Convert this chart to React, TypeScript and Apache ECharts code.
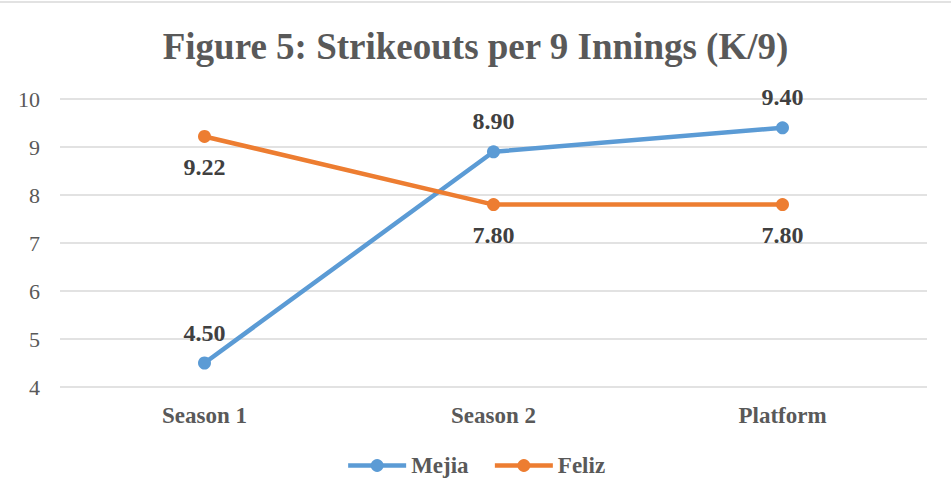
import React, { useEffect, useRef } from "react";
import * as echarts from "echarts";

const categories = ["Season 1", "Season 2", "Platform"];
const mejia = [4.5, 8.9, 9.4];
const feliz = [9.22, 7.8, 7.8];
const yTicks = { min: 4, max: 10, interval: 1 };

const FONT = '"Liberation Serif", "Times New Roman", serif';

export default function App() {
  const ref = useRef<HTMLDivElement>(null);
  useEffect(() => {
    document.body.style.margin = "0";
    const chart = echarts.init(ref.current!, null, { renderer: "svg" });
    chart.setOption({
      animation: false,
      backgroundColor: "#ffffff",
      title: {
        text: "Figure 5: Strikeouts per 9 Innings (K/9)",
        left: "center",
        top: 23,
        textStyle: { fontFamily: FONT, fontSize: 37, fontWeight: "bold", color: "#595959" },
      },
      graphic: [
        { type: "line", shape: { x1: 0, y1: 2, x2: 951, y2: 2 }, style: { stroke: "#d9d9d9", lineWidth: 1.5 } },
      ],
      legend: {
        bottom: 19,
        left: "center",
        itemWidth: 58,
        itemHeight: 16,
        itemGap: 24,
        lineStyle: { width: 4.5 },
        textStyle: { fontFamily: FONT, fontSize: 23, fontWeight: "bold", color: "#595959" },
        data: ["Mejia", "Feliz"],
      },
      grid: { left: 60, right: 24, top: 99, bottom: 114 },
      xAxis: {
        type: "category",
        data: categories,
        axisLine: { show: false },
        axisTick: { show: false },
        axisLabel: { fontFamily: FONT, fontSize: 23, fontWeight: "bold", color: "#595959", margin: 17 },
      },
      yAxis: {
        type: "value",
        min: yTicks.min,
        max: yTicks.max,
        interval: yTicks.interval,
        axisLine: { show: false },
        axisTick: { show: false },
        splitLine: { lineStyle: { color: "#d9d9d9", width: 1.5 } },
        axisLabel: { fontFamily: FONT, fontSize: 22, color: "#595959", margin: 20 },
      },
      series: [
        {
          name: "Mejia",
          type: "line",
          data: mejia,
          color: "#5B9BD5",
          lineStyle: { width: 4.5, color: "#5B9BD5" },
          symbol: "circle",
          symbolSize: 13,
          itemStyle: { color: "#5B9BD5" },
          label: {
            show: true,
            position: "top",
            distance: 12,
            formatter: (p: any) => p.value.toFixed(2),
            fontFamily: FONT,
            fontSize: 24,
            fontWeight: "bold",
            color: "#404040",
          },
        },
        {
          name: "Feliz",
          type: "line",
          data: feliz,
          color: "#ED7D31",
          lineStyle: { width: 4.5, color: "#ED7D31" },
          symbol: "circle",
          symbolSize: 13,
          itemStyle: { color: "#ED7D31" },
          label: {
            show: true,
            position: "bottom",
            distance: 12,
            formatter: (p: any) => p.value.toFixed(2),
            fontFamily: FONT,
            fontSize: 24,
            fontWeight: "bold",
            color: "#404040",
          },
        },
      ],
    });
    return () => chart.dispose();
  }, []);
  return <div ref={ref} style={{ width: 951, height: 501 }} />;
}
